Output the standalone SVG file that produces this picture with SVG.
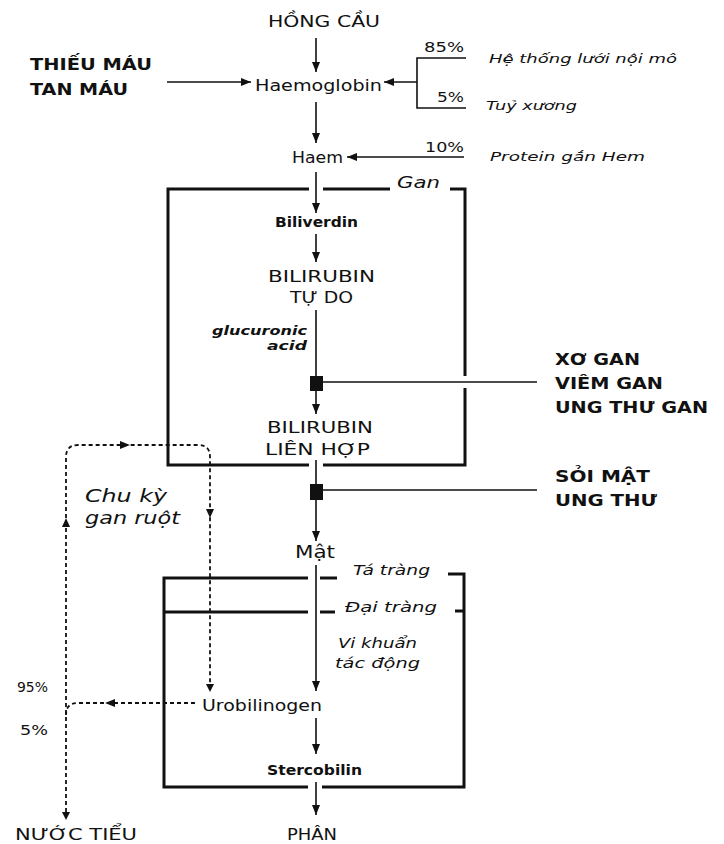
<svg xmlns="http://www.w3.org/2000/svg" width="724" height="844" viewBox="0 0 724 844">
<style>
text{font-family:"DejaVu Sans","Liberation Sans",sans-serif;fill:#111;}
.r{font-size:15px;}
.b{font-size:16px;font-weight:bold;}
.i{font-style:italic;font-size:13px;}
.c{stroke:#111;stroke-width:1.6;fill:none;}
.d{stroke:#111;stroke-width:1.8;fill:none;stroke-dasharray:4 3;}
.box{stroke:#111;stroke-width:3;fill:none;}
.blk{fill:#111;}
</style>
<defs>
<marker id="ah" markerUnits="userSpaceOnUse" markerWidth="10" markerHeight="10" viewBox="0 0 10 10" refX="10" refY="5" orient="auto">
<path d="M0,1 L10,5 L0,9 Z" fill="#111"/>
</marker>
</defs>
<rect width="724" height="844" fill="#fff"/>

<g id="connectors">
<line class="c" x1="316" y1="38" x2="316" y2="72" marker-end="url(#ah)"/>
<line class="c" x1="167" y1="82" x2="251" y2="82" marker-end="url(#ah)"/>
<polyline class="c" points="466,58 417,58 417,108 466,108"/>
<line class="c" x1="417" y1="82" x2="384" y2="82" marker-end="url(#ah)"/>
<line class="c" x1="316" y1="102" x2="316" y2="143" marker-end="url(#ah)"/>
<line class="c" x1="464" y1="157" x2="347" y2="157" marker-end="url(#ah)"/>
<line class="c" x1="316" y1="172" x2="316" y2="213" marker-end="url(#ah)"/>
<line class="c" x1="316" y1="234" x2="316" y2="262" marker-end="url(#ah)"/>
<line class="c" x1="316" y1="310" x2="316" y2="377"/>
<rect class="blk" x="310" y="376" width="13" height="15"/>
<line class="c" x1="316" y1="391" x2="316" y2="414" marker-end="url(#ah)"/>
<line class="c" x1="323" y1="382" x2="537" y2="382"/>
<line class="c" x1="316" y1="460" x2="316" y2="485"/>
<rect class="blk" x="310" y="484" width="13" height="16"/>
<line class="c" x1="316" y1="500" x2="316" y2="541" marker-end="url(#ah)"/>
<line class="c" x1="323" y1="490" x2="537" y2="490"/>
<line class="c" x1="316" y1="565" x2="316" y2="691" marker-end="url(#ah)"/>
<line class="c" x1="316" y1="718" x2="316" y2="754" marker-end="url(#ah)"/>
<line class="c" x1="316" y1="782" x2="316" y2="815" marker-end="url(#ah)"/>
<path class="d" d="M66,812 V457 Q66,445 78,445 H198 Q210,445 210,457 V692"/>
<path class="blk" d="M62,812 L66,820 L70,812 Z"/>
<path class="blk" d="M206,684 L210,692 L214,684 Z"/>
<path class="blk" d="M62,527 L66,518 L70,527 Z"/>
<path class="blk" d="M120,441 L130,445 L120,449 Z"/>
<path class="blk" d="M206,509 L210,518 L214,509 Z"/>
<path class="d" d="M195,703 H78 Q66,703 66,715"/>
<path class="blk" d="M115,699 L105,703 L115,707 Z"/>
</g>

<g id="gan-box">
<path class="box" d="M309,189 H168 V465 H309 M323,465 H465 V388 M465,376 V189 H450 M323,189 H390"/>
<text class="i" x="397" y="188" style="font-size:16px" textLength="43" lengthAdjust="spacingAndGlyphs">Gan</text>
</g>

<g id="ruot-box">
<path class="box" d="M308,578 H164 V787 H308 M322,787 H464 V574 H448 M164,612 H308"/>
<path class="box" d="M320,578 H337 M320,612 H335 M455,611 H464"/>
<text class="i" x="353" y="575" style="font-size:14px" textLength="77" lengthAdjust="spacingAndGlyphs">Tá tràng</text>
<text class="i" x="345" y="612" style="font-size:14px" textLength="92" lengthAdjust="spacingAndGlyphs">Đại tràng</text>
</g>

<g id="hong-cau"><text class="r" x="268" y="27" style="font-size:16px" textLength="112" lengthAdjust="spacingAndGlyphs">HỒNG CẦU</text></g>
<g id="thieu-mau">
<text class="b" x="30" y="70" textLength="122" lengthAdjust="spacingAndGlyphs">THIẾU MÁU</text>
<text class="b" x="30" y="95" textLength="98" lengthAdjust="spacingAndGlyphs">TAN MÁU</text>
</g>
<g id="haemoglobin"><text class="r" x="255" y="91" textLength="127" lengthAdjust="spacingAndGlyphs">Haemoglobin</text></g>
<g id="pct85"><text class="r" x="424" y="52" style="font-size:14px" textLength="40" lengthAdjust="spacingAndGlyphs">85%</text></g>
<g id="pct5a"><text class="r" x="437" y="102" style="font-size:14px" textLength="27" lengthAdjust="spacingAndGlyphs">5%</text></g>
<g id="pct10"><text class="r" x="425" y="152" style="font-size:14px" textLength="39" lengthAdjust="spacingAndGlyphs">10%</text></g>
<g id="luoi-noi-mo"><text class="i" x="489" y="63" textLength="188" lengthAdjust="spacingAndGlyphs">Hệ thống lưới nội mô</text></g>
<g id="tuy-xuong"><text class="i" x="486" y="110" textLength="91" lengthAdjust="spacingAndGlyphs">Tuỷ xương</text></g>
<g id="protein"><text class="i" x="490" y="161" textLength="155" lengthAdjust="spacingAndGlyphs">Protein gắn Hem</text></g>
<g id="haem"><text class="r" x="292" y="163" textLength="51" lengthAdjust="spacingAndGlyphs">Haem</text></g>
<g id="biliverdin"><text class="r" x="275" y="227" style="font-size:14px;font-weight:bold" textLength="83" lengthAdjust="spacingAndGlyphs">Biliverdin</text></g>
<g id="bilirubin-tu-do">
<text class="r" x="268" y="282" textLength="107" lengthAdjust="spacingAndGlyphs">BILIRUBIN</text>
<text class="r" x="290" y="303" textLength="63" lengthAdjust="spacingAndGlyphs">TỰ DO</text>
</g>
<g id="glucuronic">
<text class="i" x="212" y="335" style="font-weight:bold" textLength="95" lengthAdjust="spacingAndGlyphs">glucuronic</text>
<text class="i" x="267" y="350" style="font-weight:bold" textLength="40" lengthAdjust="spacingAndGlyphs">acid</text>
</g>
<g id="bilirubin-lien-hop">
<text class="r" x="267" y="433" textLength="106" lengthAdjust="spacingAndGlyphs">BILIRUBIN</text>
<text class="r" x="265" y="455" textLength="105" lengthAdjust="spacingAndGlyphs">LIÊN HỢP</text>
</g>
<g id="xo-gan">
<text class="b" x="555" y="365" textLength="85" lengthAdjust="spacingAndGlyphs">XƠ GAN</text>
<text class="b" x="555" y="389" textLength="108" lengthAdjust="spacingAndGlyphs">VIÊM GAN</text>
<text class="b" x="555" y="413" textLength="153" lengthAdjust="spacingAndGlyphs">UNG THƯ GAN</text>
</g>
<g id="soi-mat">
<text class="b" x="555" y="482" textLength="95" lengthAdjust="spacingAndGlyphs">SỎI MẬT</text>
<text class="b" x="555" y="506" textLength="102" lengthAdjust="spacingAndGlyphs">UNG THƯ</text>
</g>
<g id="chu-ky">
<text class="i" x="85" y="502" style="font-size:17px" textLength="82" lengthAdjust="spacingAndGlyphs">Chu kỳ</text>
<text class="i" x="85" y="524" style="font-size:17px" textLength="95" lengthAdjust="spacingAndGlyphs">gan ruột</text>
</g>
<g id="mat"><text class="r" x="295" y="558" style="font-size:17px" textLength="40" lengthAdjust="spacingAndGlyphs">Mật</text></g>
<g id="vi-khuan">
<text class="i" x="338" y="648" style="font-size:14px" textLength="79" lengthAdjust="spacingAndGlyphs">Vi khuẩn</text>
<text class="i" x="335" y="668" style="font-size:14px" textLength="85" lengthAdjust="spacingAndGlyphs">tác động</text>
</g>
<g id="urobilinogen"><text class="r" x="202" y="711" textLength="120" lengthAdjust="spacingAndGlyphs">Urobilinogen</text></g>
<g id="pct95"><text class="r" x="17" y="692" style="font-size:14px" textLength="31" lengthAdjust="spacingAndGlyphs">95%</text></g>
<g id="pct5b"><text class="r" x="20" y="735" style="font-size:14px" textLength="28" lengthAdjust="spacingAndGlyphs">5%</text></g>
<g id="stercobilin"><text class="r" x="267" y="775" style="font-size:14px;font-weight:bold" textLength="95" lengthAdjust="spacingAndGlyphs">Stercobilin</text></g>
<g id="nuoc-tieu"><text class="r" x="15" y="840" textLength="122" lengthAdjust="spacingAndGlyphs">NƯỚC TIỂU</text></g>
<g id="phan"><text class="r" x="287" y="840" textLength="50" lengthAdjust="spacingAndGlyphs">PHÂN</text></g>
</svg>
